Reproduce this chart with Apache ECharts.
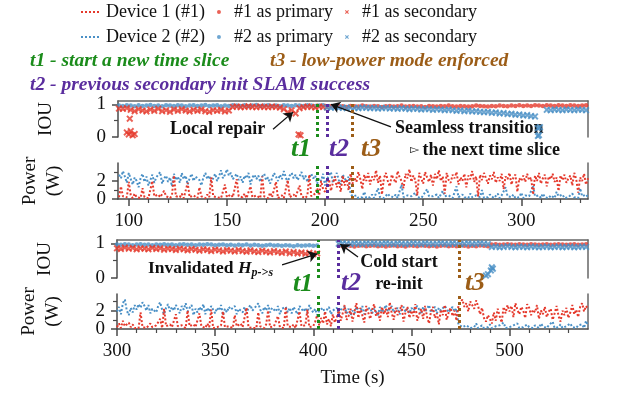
<!DOCTYPE html>
<html>
<head>
<meta charset="utf-8">
<script src="https://cdn.jsdelivr.net/npm/echarts@6/dist/echarts.min.js"></script>
<style>
  html, body { margin: 0; background: #fff; }
  #chart { width: 623px; height: 394px; }
</style>
</head>
<body>
<div id="chart"></div>
<script>
// ---- panel 1 (95..334 s) power, one value per second ----
const p1PowStart = 95
const p1RedPow = [
  0.2,1.4,0.3,0.1,0.2,1.9,0.4,0.1,0.6,0.2, 0.3,0.1,1.2,0.2,0.4,0.1,0.2,2.0,0.3,0.1,
  0.5,0.2,0.1,0.9,0.3,0.2,0.1,0.4,2.6,0.3, 0.1,0.2,0.6,0.1,0.3,1.8,0.2,0.1,0.4,0.2,
  0.1,1.3,0.3,0.2,0.1,0.5,0.2,2.4,0.3,0.1, 0.2,0.4,0.1,0.3,1.6,0.2,0.1,0.5,0.2,0.1,
  2.2,0.3,0.1,0.2,0.6,0.1,0.3,1.4,0.2,0.1, 0.4,0.2,0.1,2.5,0.3,0.2,0.1,0.7,0.2,0.3,
  1.9,0.1,0.2,0.4,0.1,0.3,2.1,0.2,0.1,0.5, 0.2,0.1,1.5,0.3,0.2,0.1,0.4,2.7,0.3,0.2,
  0.6,1.2,0.4,2.0,1.1,0.8,1.6,2.2,0.9,1.8, 2.5,1.3,2.0,0.8,2.6,1.5,2.2,1.0,2.8,1.7,
  2.4,1.9,3.0,2.2,1.1,2.7,2.0,2.9,1.6,2.5, 2.1,3.2,1.8,2.6,0.5,2.3,2.9,2.0,1.4,2.7,
  2.2,1.8,3.1,2.4,2.0,1.2,2.8,2.3,3.3,1.9, 2.6,2.1,0.4,2.9,2.3,1.7,3.0,2.4,1.9,2.7,
  1.5,2.8,2.2,3.2,2.0,2.5,0.6,2.9,2.1,1.8, 2.7,2.3,3.0,1.6,2.4,2.0,2.8,1.3,2.6,2.2,
  3.1,1.9,2.5,0.3,2.7,2.1,2.9,2.3,1.7,2.6, 2.2,3.0,1.8,2.4,2.0,2.8,1.1,2.5,2.2,2.9,
  1.6,2.4,2.7,0.8,2.3,2.0,2.6,1.9,2.8,2.1, 2.4,0.5,2.6,2.0,2.9,1.7,2.3,2.7,1.4,2.5,
  2.2,2.8,1.9,2.4,0.9,2.6,2.1,2.7,1.8,2.3, 2.6,1.5,2.9,2.2,0.7,2.4,2.0,2.8,1.6,2.3
]
const p1BluePow = [
  2.7,2.3,3.1,2.5,1.8,2.9,2.2,1.6,2.4,2.0, 1.3,2.3,2.8,1.9,2.5,1.5,2.1,2.7,1.8,2.4,
  2.2,3.0,1.7,2.3,2.6,1.9,2.4,1.4,2.8,2.1, 2.5,1.8,2.9,2.2,2.6,1.6,2.3,2.8,2.0,2.5,
  2.7,2.1,1.5,2.4,2.9,2.2,2.6,1.9,2.3,2.8, 2.0,2.5,3.2,2.3,2.7,3.3,2.6,2.9,2.2,2.4,
  2.8,2.1,2.5,1.8,2.6,2.3,2.9,1.6,2.4,2.7, 2.2,2.6,1.9,2.5,2.8,2.1,2.4,1.7,2.3,2.9,
  2.5,2.0,2.7,2.2,3.1,2.4,1.8,2.6,2.9,2.3, 2.7,2.1,2.5,3.0,2.2,2.6,1.9,2.4,2.8,2.3,
  2.6,1.7,2.3,2.0,2.8,1.5,2.2,2.6,3.0,1.8, 2.4,2.9,2.1,1.6,2.7,2.3,1.9,2.5,0.6,0.3,
  0.2,0.4,0.1,0.3,0.2,0.8,0.1,0.3,0.2,0.5, 0.1,0.3,1.2,0.2,0.4,0.1,0.2,0.6,0.3,0.1,
  0.2,0.5,0.1,0.3,1.6,0.2,0.1,0.4,0.2,0.3, 0.1,0.7,0.2,0.3,0.1,0.4,0.2,1.1,0.3,0.1,
  0.3,0.2,0.5,0.1,0.2,0.9,0.3,0.1,0.4,0.2, 0.1,0.3,1.4,0.2,0.1,0.5,0.2,0.3,0.1,0.6,
  0.2,0.1,0.4,0.3,0.2,1.0,0.1,0.3,0.2,0.5, 0.3,0.1,0.2,0.6,0.1,0.4,0.2,1.3,0.3,0.1,
  0.2,0.5,0.1,0.3,0.2,0.7,0.1,0.4,0.2,0.3, 0.1,1.5,0.3,0.2,0.4,0.1,0.6,0.2,0.3,0.1,
  0.4,0.2,0.1,0.8,0.3,0.2,0.5,0.1,0.3,0.2, 0.1,0.6,0.2,0.4,0.1,1.2,0.3,0.2,0.5,0.2
]

// ---- panel 1 IOU, one value every 2 s ----
const p1BluePriStart = 95
const p1BluePri = [
  0.96,0.95,0.97,0.96,0.94,0.97,0.95,0.96,0.98,0.95, 0.96,0.94,0.97,0.96,0.95,0.97,0.96,0.94,0.96,0.97,
  0.95,0.96,0.98,0.95,0.96,0.97,0.94,0.96,0.95,0.97, 0.96,0.95,0.97,0.94,0.96,0.98,0.95,0.96,0.97,0.95,
  0.96,0.94,0.97,0.96,0.95,0.97,0.96,0.95,0.97,0.96, 0.95,0.96,0.97
]
const p1RedSecStart = 95
const p1RedSec = [
  0.87,0.86,0.88,
  0.83,0.79,0.85,0.81,0.78,0.84,0.80,0.86,0.79,0.82,0.77,0.84,0.80,0.85,0.81,0.78,0.83,0.80,0.84,0.79,0.77,0.82,0.80,0.83,0.78,0.81,
  0.92,0.93,0.91,0.92,0.94,0.92,0.91,0.93,0.92,0.91,0.93,0.92,0.90,
  0.85,0.76,0.82,0.72,0.88,
  0.91,0.93,0.92,0.90,0.93,0.92,0.91
]
const p1RedOut = [[100.5,0.56],[99,0.14],[100,0.08],[101,0.18],[102,0.05],[103,0.09],[186.5,0.08],[187.5,0.05]]
const p1RedPriStart = 203
const p1RedPri = [
  0.94,0.93,0.95,0.94,0.92,0.95,0.94,0.93,0.96,0.94, 0.93,0.95,0.94,0.92,0.94,0.95,0.93,0.94,0.96,0.93,
  0.94,0.95,0.93,0.94,0.92,0.95,0.94,0.93,0.95,0.94, 0.96,0.94,0.93,0.95,0.94,0.93,0.94,0.96,0.95,0.94,
  0.93,0.95,0.94,0.96,0.95,0.94,0.96,0.95,0.97,0.95, 0.96,0.95,0.97,0.96,0.95,0.97,0.96,0.95,0.97,0.96,
  0.95,0.97,0.96,0.95,0.96,0.97
]
const p1BlueSecStart = 201
const p1BlueSec = [
  0.90,0.89,0.91,0.89,0.90,0.88,0.90,0.89,0.88,0.90, 0.89,0.88,0.89,0.87,0.88,0.89,0.87,0.88,0.86,0.88,
  0.87,0.85,0.87,0.86,0.84,0.86,0.85,0.83,0.85,0.84, 0.82,0.84,0.82,0.80,0.82,0.79,0.81,0.78,0.79,0.77,
  0.76,0.77,0.74,0.75,0.72,0.73,0.70,0.71,0.68,0.69, 0.66,0.67,0.64,0.63,
  null,null,
  0.83,0.82,0.84,0.83,0.82,0.84,0.83,0.82,0.84,0.83,0.82
]
const p1BlueOut = [[308.5,0.27],[309.5,0.30],[308.5,0.03],[309,0.06]]

// ---- panel 2 (300..540 s) power, one value per second ----
const p2PowStart = 300
const p2RedPow = [
  0.2,0.6,0.1,0.9,0.3,0.1,0.7,0.2,0.5,0.1, 0.3,0.1,1.8,0.2,0.4,0.1,0.3,0.6,0.2,0.1,
  0.4,0.2,1.1,0.1,2.2,0.3,0.1,0.5,0.2,0.1, 1.6,0.3,0.1,0.4,0.2,0.1,2.0,0.3,0.1,0.5,
  0.2,0.1,1.7,0.3,0.2,0.1,0.6,0.2,2.1,0.1, 0.3,0.2,0.1,0.4,1.9,0.2,0.1,0.3,0.2,0.1,
  1.5,0.3,0.1,0.6,0.2,0.1,2.3,0.2,0.4,0.1, 0.2,0.1,1.8,0.3,0.2,0.1,0.5,2.0,0.2,0.1,
  0.3,0.1,1.4,0.2,0.4,0.1,2.4,0.3,0.1,0.2, 0.5,0.1,0.2,1.9,0.3,0.1,0.4,2.1,0.2,0.1,
  0.3,0.8,1.5,0.4,1.2,0.6,1.9,0.5,1.1,0.3, 1.6,0.7,1.3,2.0,0.9,1.7,2.6,1.0,1.4,2.2,
  0.8,1.9,2.8,1.2,2.3,1.5,0.7,2.5,1.8,1.1, 2.1,2.7,1.4,1.9,0.9,2.4,1.6,2.2,1.3,2.9,
  1.7,1.0,2.3,1.5,2.0,2.6,0.8,1.8,2.4,1.2, 2.0,1.4,2.7,0.9,1.6,2.2,1.1,2.5,1.3,0.6,
  1.9,2.4,1.2,1.7,0.5,2.1,1.5,2.6,1.0,1.8, 2.3,1.4,2.0,0.9,2.5,2.9,3.2,2.4,2.8,1.9,
  3.0,2.6,2.2,3.1,2.5,1.6,2.3,1.2,0.8,1.5, 1.1,0.6,1.8,0.9,2.2,1.4,0.7,2.4,1.7,2.6,
  1.9,2.5,1.3,2.8,2.1,1.6,2.4,2.0,1.2,2.7, 2.3,1.5,2.1,1.8,2.6,1.1,2.0,1.6,2.4,1.3,
  1.9,2.2,1.0,1.7,2.5,1.4,0.8,2.0,1.5,2.3, 1.2,1.8,2.6,1.6,2.1,1.3,2.4,2.8,1.9,2.5,
  2.2
]
const p2BluePow = [
  1.9,2.4,1.6,2.8,3.2,2.0,1.5,2.3,1.8,2.6, 2.1,2.7,2.3,2.9,2.5,2.0,2.6,1.7,2.2,2.4,
  1.8,2.5,2.9,2.1,1.6,2.3,2.7,1.9,2.4,2.0, 2.6,2.2,1.7,2.5,2.1,2.8,1.9,2.3,2.6,1.5,
  2.2,1.8,2.4,2.0,2.7,1.6,2.3,1.9,2.5,2.1, 1.7,2.3,2.0,2.6,1.5,2.2,1.8,2.4,2.1,1.9,
  2.5,1.6,2.2,2.0,1.8,2.4,1.7,2.3,2.6,2.0, 1.9,2.5,2.8,2.1,1.7,2.4,2.0,2.6,1.8,2.3,
  2.1,1.9,2.5,1.6,2.2,2.0,2.4,1.8,2.3,1.7, 2.4,2.0,1.6,2.5,2.2,1.9,2.3,1.7,2.6,2.1,
  1.8,2.2,1.5,2.0,1.9,2.3,1.7,2.1,2.4,1.6, 2.0,1.8,2.3,1.6,2.1,1.9,2.4,1.7,2.2,1.5,
  2.0,1.7,2.4,2.2,1.8,2.5,1.6,2.1,1.9,2.3, 1.7,2.2,2.0,1.5,2.4,1.8,2.1,2.6,1.9,2.2,
  2.5,1.8,2.0,2.3,1.6,2.1,2.4,1.9,2.2,1.7, 2.3,2.0,1.8,2.5,2.1,1.6,2.4,1.9,2.2,2.6,
  1.8,2.1,2.4,1.7,2.3,2.0,1.9,2.5,2.2,1.8, 2.1,2.4,1.9,2.2,0.5,0.3,0.2,0.1,0.4,0.2,
  0.1,0.3,0.2,0.6,0.1,0.2,0.4,0.1,0.3,0.2, 0.5,0.1,0.2,0.3,0.1,0.4,0.2,0.7,0.1,0.3,
  0.2,0.1,0.4,0.2,0.6,0.1,0.3,0.2,0.1,0.5, 0.2,0.3,0.1,0.4,0.2,0.1,0.6,0.3,0.2,0.1,
  0.4,0.2,0.8,0.1,0.3,0.2,0.5,0.1,0.2,0.3, 0.1,0.6,0.2,0.3,0.1,0.4,0.2,0.5,0.1,0.9,
  0.3
]

// ---- panel 2 IOU, one value every 2 s ----
const p2BluePriStart = 300
const p2BluePri = [
  0.97,0.96,0.98,0.97,0.95,0.97,0.98,0.96,0.97,0.95, 0.97,0.96,0.98,0.96,0.97,0.95,0.97,0.98,0.96,0.97,
  0.95,0.97,0.96,0.98,0.97,0.95,0.96,0.97,0.95,0.96, 0.94,0.96,0.95,0.97,0.94,0.96,0.95,0.93,0.95,0.96,
  0.94,0.95,0.93,0.95,0.94,0.92,0.95,0.93,0.94,0.95, 0.93,0.94
]
const p2RedSecStart = 300
const p2RedSec = [
  0.86,0.84,0.88,0.85,0.87,0.83,0.86,0.85,0.83,0.87, 0.84,0.86,0.82,0.85,0.84,0.81,0.85,0.83,0.80,0.84,
  0.82,0.79,0.83,0.81,0.78,0.82,0.80,0.77,0.81,0.79, 0.77,0.81,0.78,0.76,0.80,0.77,0.75,0.79,0.76,0.74,
  0.78,0.75,0.73,0.77,0.72,0.75,0.71,0.74,0.70,0.73, 0.69,0.71
]
const p2RedPriStart = 413
const p2RedPri = [
  0.93,0.92,0.94,0.93,0.91,0.93,0.94,0.92,0.93,0.94, 0.92,0.93,0.91,0.93,0.94,0.92,0.93,0.91,0.94,0.93,
  0.92,0.94,0.93,0.92,0.93,0.91,0.93,0.94,0.92,0.93, 0.92,0.94,0.93,0.91,0.93,0.92,0.94,0.93,0.92,
  0.97,0.98,0.96,0.97,0.98,0.97,0.96,0.98,0.97,0.96, 0.98,0.97,0.96,0.97,0.98,0.96,0.97,0.98,0.97,0.96,
  0.97,0.98,0.96,0.97,0.98
]
const p2BlueSecStart = 413
const p2BlueSec = [
  0.99,1.00,0.99,0.98,1.00,0.99,0.98,1.00,0.99,1.00, 0.98,0.99,1.00,0.99,0.98,1.00,0.99,0.98,0.99,1.00,
  0.99,0.98,1.00,0.99,0.98,0.99,1.00,0.99,0.98,1.00, 0.99,0.98,0.99,1.00,0.98,0.99,1.00,0.99,0.98,
  0.90,0.91,0.89,0.90,0.92,0.90,0.89,0.91,0.90,0.89, 0.91,0.90,0.89,0.90,0.91,0.89,0.90,0.91,0.89,0.90,
  0.91,0.89,0.90,0.91,0.90
]
const p2BlueOut = [[488,0.07],[489,0.11],[490.5,0.22],[491.5,0.27],[491,0.31]]

// event times (s)
const p1Events = { t1: 196, t2: 201, t3: 214 }
const p2Events = { t1: 402.4, t2: 412.6, t3: 474.3 }

// tick labels
const p1XLabels = [100, 150, 200, 250, 300]
const p2XLabels = [300, 350, 400, 450, 500]
const iouLabels = [0, 1]
const powLabelLow = [0]
const powLabelHigh = [2]

const FONT = 'Liberation Serif'
const RED = '#e5392c'
const BLUE = '#4a90c6'
const GREEN = '#1b8c1b'
const PURPLE = '#5a2d9e'
const BROWN = '#9c5d17'
const AXIS = '#4a4a4a'
const CROSS = 'path://M0,2L2,0L5,3L8,0L10,2L7,5L10,8L8,10L5,7L2,10L0,8L3,5Z'

const pairs = (t0, step, vals) => {
  const out = []
  vals.forEach((v, i) => { if (v !== null) out.push([t0 + i * step, v]) })
  return out
}
const minors = (from, to) => {
  const out = []
  for (let v = from; v <= to; v += 10) if (v % 50 !== 0) out.push(v)
  return out
}

const tickLabel = { color: '#111', fontFamily: FONT, fontSize: 19, showMinLabel: true, showMaxLabel: true, hideOverlap: false }

const xMajor = (grid, min, max, vals, name) => ({
  type: 'value', gridIndex: grid, min, max, position: 'bottom',
  axisLine: { show: true, onZero: false, lineStyle: { color: AXIS, width: 1.5 } },
  axisTick: { show: true, length: 7, customValues: vals, lineStyle: { color: AXIS, width: 1.5 } },
  axisLabel: Object.assign({ show: true, customValues: vals, margin: 13 }, tickLabel),
  splitLine: { show: false },
  name: name || '', nameLocation: 'middle', nameGap: 40,
  nameTextStyle: { color: '#111', fontFamily: FONT, fontSize: 19 },
})
const xMinor = (grid, min, max, vals) => ({
  type: 'value', gridIndex: grid, min, max, position: 'bottom',
  axisLine: { show: false, onZero: false },
  axisTick: { show: true, length: 4, customValues: vals, lineStyle: { color: AXIS, width: 1.2 } },
  axisLabel: { show: false, customValues: vals },
  splitLine: { show: false },
})
const xTop = (grid, min, max) => ({
  type: 'value', gridIndex: grid, min, max, position: 'top',
  axisLine: { show: true, onZero: false, lineStyle: { color: '#666', width: 1.5 } },
  axisTick: { show: false }, axisLabel: { show: false }, splitLine: { show: false },
})
// main left axis: line, major ticks, some labels, and the axis name
const yMajor = (grid, min, max, ticks, labels, name, gap) => ({
  type: 'value', gridIndex: grid, min, max, position: 'left',
  axisLine: { show: true, onZero: false, lineStyle: { color: AXIS, width: 1.5 } },
  axisTick: { show: true, length: 6, customValues: ticks, lineStyle: { color: AXIS, width: 1.5 } },
  axisLabel: Object.assign({ show: true, customValues: labels, margin: 12 }, tickLabel),
  splitLine: { show: false },
  name, nameLocation: 'middle', nameRotate: 90, nameGap: gap,
  nameTextStyle: { color: '#111', fontFamily: FONT, fontSize: 19, lineHeight: 24 },
})
// second left axis: minor ticks, plus labels that would collide on the main axis
const yMinor = (grid, min, max, ticks, labels) => ({
  type: 'value', gridIndex: grid, min, max, position: 'left',
  axisLine: { show: false, onZero: false },
  axisTick: { show: true, length: 4, customValues: ticks, lineStyle: { color: AXIS, width: 1.2 } },
  axisLabel: labels
    ? Object.assign({ show: true, customValues: labels, margin: 12 }, tickLabel)
    : { show: false, customValues: ticks },
  splitLine: { show: false },
})
const yRight = (grid, min, max) => ({
  type: 'value', gridIndex: grid, min, max, position: 'right',
  axisLine: { show: true, onZero: false, lineStyle: { color: '#666', width: 1.5 } },
  axisTick: { show: false }, axisLabel: { show: false }, splitLine: { show: false },
})

const vLines = (ev) => ({
  silent: true, symbol: 'none', animation: false,
  label: { show: false },
  lineStyle: { type: 'dotted', width: 3 },
  data: [
    { xAxis: ev.t1, lineStyle: { color: GREEN } },
    { xAxis: ev.t2, lineStyle: { color: PURPLE } },
    { xAxis: ev.t3, lineStyle: { color: BROWN } },
  ],
})
const arrows = (list) => ({
  silent: true, symbol: ['none', 'arrow'], symbolSize: 9, animation: false,
  label: { show: false },
  lineStyle: { type: 'solid', color: '#111', width: 1.3 },
  data: list.map((a) => [{ coord: a[0] }, { coord: a[1] }]),
})

const powLine = (name, color, xi, yi, data, ml) => ({
  name, type: 'line', xAxisIndex: xi, yAxisIndex: yi, data,
  symbol: 'none', lineStyle: { color, width: 2, type: 'dotted' }, itemStyle: { color },
  markLine: ml,
})
const iouDots = (name, color, xi, yi, data, ml) => ({
  name, type: 'scatter', xAxisIndex: xi, yAxisIndex: yi, data,
  symbol: 'circle', symbolSize: 4.5, itemStyle: { color }, markLine: ml,
})
const iouCross = (name, color, xi, yi, data, ml) => ({
  name, type: 'scatter', xAxisIndex: xi, yAxisIndex: yi, data,
  symbol: CROSS, symbolSize: 7, itemStyle: { color }, markLine: ml,
})

const p1Min = 94.5, p1Max = 334, p2Min = 300, p2Max = 540

const legendText = { color: '#111', fontFamily: FONT, fontSize: 18 }
const lineEntry = (name) => ({ name, itemStyle: { opacity: 0 } })

const NOTE = 'bold 18px "Liberation Serif"'
const KEY = 'bold italic 19.5px "Liberation Serif"'
const TAG = 'bold italic 26px "Liberation Serif"'

const option = {
  animation: false,
  backgroundColor: '#fff',
  textStyle: { fontFamily: FONT },
  grid: [
    { left: 118, right: 35, top: 101, height: 36 },
    { left: 118, right: 35, top: 163, height: 36 },
    { left: 117, right: 35, top: 240, height: 38 },
    { left: 117, right: 35, top: 294, height: 35 },
  ],
  xAxis: [
    xTop(0, p1Min, p1Max),
    xMajor(1, p1Min, p1Max, p1XLabels),
    xMinor(1, p1Min, p1Max, minors(100, 330)),
    xTop(2, p2Min, p2Max),
    xMajor(3, p2Min, p2Max, p2XLabels, 'Time (s)'),
    xMinor(3, p2Min, p2Max, minors(310, 530)),
  ],
  yAxis: [
    yMajor(0, 0, 1.1, [0, 1], iouLabels, 'IOU', 60),
    yMinor(0, 0, 1.1, [0.5]),
    yMajor(1, 0, 4, [0, 2], powLabelLow, 'Power\n(W)', 52),
    yMinor(1, 0, 4, [1, 3], powLabelHigh),
    yMajor(2, 0, 1.1, [0, 1], iouLabels, 'IOU', 60),
    yMinor(2, 0, 1.1, [0.5]),
    yMajor(3, 0, 3.8, [0, 2], powLabelLow, 'Power\n(W)', 52),
    yMinor(3, 0, 3.8, [1, 3], powLabelHigh),
    yRight(0, 0, 1.1),
    yRight(1, 0, 4),
    yRight(2, 0, 1.1),
    yRight(3, 0, 3.8),
  ],
  legend: [
    {
      data: [lineEntry('Device 1 (#1)'), '#1 as primary', '#1 as secondary'],
      left: 80, top: 3, padding: 0, itemWidth: 20, itemHeight: 4, itemGap: 12,
      textStyle: legendText,
    },
    {
      data: [lineEntry('Device 2 (#2)'), '#2 as primary', '#2 as secondary'],
      left: 80, top: 28, padding: 0, itemWidth: 20, itemHeight: 4, itemGap: 12,
      textStyle: legendText,
    },
  ],
  series: [
    // panel 1 power
    powLine('Device 2 (#2)', BLUE, 1, 2, pairs(p1PowStart, 1, p1BluePow)),
    powLine('Device 1 (#1)', RED, 1, 2, pairs(p1PowStart, 1, p1RedPow), vLines(p1Events)),
    // panel 1 IOU
    iouDots('#2 as primary', BLUE, 0, 0, pairs(p1BluePriStart, 2, p1BluePri)),
    iouCross('#1 as secondary', RED, 0, 0, pairs(p1RedSecStart, 2, p1RedSec).concat(p1RedOut),
      arrows([[[173.5, 0.24], [183.7, 0.76]], [[233.6, 0.31], [203.0, 1.0]]])),
    iouDots('#1 as primary', RED, 0, 0, pairs(p1RedPriStart, 2, p1RedPri), vLines(p1Events)),
    iouCross('#2 as secondary', BLUE, 0, 0, pairs(p1BlueSecStart, 2, p1BlueSec).concat(p1BlueOut)),
    // panel 2 power
    powLine('Device 2 (#2)', BLUE, 4, 6, pairs(p2PowStart, 1, p2BluePow)),
    powLine('Device 1 (#1)', RED, 4, 6, pairs(p2PowStart, 1, p2RedPow), vLines(p2Events)),
    // panel 2 IOU
    iouDots('#2 as primary', BLUE, 3, 4, pairs(p2BluePriStart, 2, p2BluePri)),
    iouCross('#1 as secondary', RED, 3, 4, pairs(p2RedSecStart, 2, p2RedSec),
      arrows([[[384.1, 0.38], [402.0, 0.70]], [[422.8, 0.61], [413.8, 0.98]]])),
    iouDots('#1 as primary', RED, 3, 4, pairs(p2RedPriStart, 2, p2RedPri), vLines(p2Events)),
    iouCross('#2 as secondary', BLUE, 3, 4, pairs(p2BlueSecStart, 2, p2BlueSec).concat(p2BlueOut)),
  ],
  graphic: [
    { type: 'text', x: 30, y: 61, style: { text: 't1 - start a new time slice', font: KEY, fill: GREEN, verticalAlign: 'middle' } },
    { type: 'text', x: 270, y: 61, style: { text: 't3 - low-power mode enforced', font: KEY, fill: BROWN, verticalAlign: 'middle' } },
    { type: 'text', x: 30, y: 85, style: { text: 't2 - previous secondary init SLAM success', font: KEY, fill: PURPLE, verticalAlign: 'middle' } },
    // panel 1 notes
    { type: 'text', x: 170, y: 129, style: { text: 'Local repair', font: NOTE, fill: '#111', verticalAlign: 'middle' } },
    { type: 'text', x: 395, y: 128, style: { text: 'Seamless transition', font: NOTE, fill: '#111', verticalAlign: 'middle' } },
    {
      type: 'text', x: 410, y: 150,
      style: {
        text: '{a|▻} {b|the next time slice}', verticalAlign: 'middle', fill: '#111',
        rich: { a: { font: '12px "DejaVu Sans"' }, b: { font: NOTE } },
      },
    },
    { type: 'text', x: 301, y: 149, style: { text: 't1', font: TAG, fill: GREEN, align: 'center', verticalAlign: 'middle' } },
    { type: 'text', x: 339, y: 149, style: { text: 't2', font: TAG, fill: PURPLE, align: 'center', verticalAlign: 'middle' } },
    { type: 'text', x: 371, y: 149, style: { text: 't3', font: TAG, fill: BROWN, align: 'center', verticalAlign: 'middle' } },
    // panel 2 notes
    {
      type: 'text', x: 148, y: 268,
      style: {
        text: '{b|Invalidated }{i|H}{s|p->s}', verticalAlign: 'middle', fill: '#111',
        rich: {
          b: { font: 'bold 17.5px "Liberation Serif"' },
          i: { font: 'bold italic 17.5px "Liberation Serif"' },
          s: { font: 'bold italic 12px "Liberation Serif"', padding: [9, 0, 0, 0] },
        },
      },
    },
    { type: 'text', x: 399, y: 273, style: { text: 'Cold start\nre-init', font: NOTE, lineHeight: 22, fill: '#111', align: 'center', verticalAlign: 'middle' } },
    { type: 'text', x: 303, y: 284, style: { text: 't1', font: TAG, fill: GREEN, align: 'center', verticalAlign: 'middle' } },
    { type: 'text', x: 351, y: 283, style: { text: 't2', font: TAG, fill: PURPLE, align: 'center', verticalAlign: 'middle' } },
    { type: 'text', x: 475, y: 283, style: { text: 't3', font: TAG, fill: BROWN, align: 'center', verticalAlign: 'middle' } },
  ],
}

const chart = echarts.init(document.getElementById('chart'))
chart.setOption(option)
</script>
</body>
</html>
